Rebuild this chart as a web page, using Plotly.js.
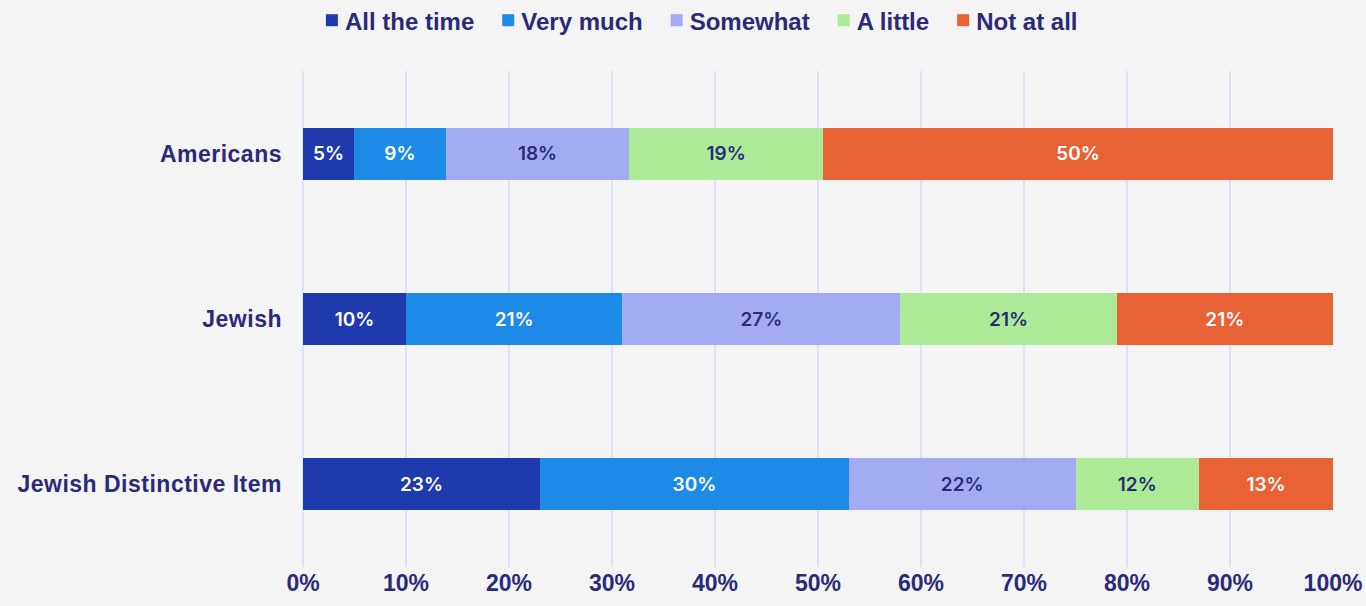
<!DOCTYPE html>
<html>
<head>
<meta charset="utf-8">
<script src="https://cdn.plot.ly/plotly-3.0.1.min.js"></script>
<style>
html,body{margin:0;padding:0;background:#f4f4f4;}
#chart{width:1366px;height:606px;}
#chart .ytick text{letter-spacing:0.5px;}
#chart .legendtext{transform:translateX(-8px);}
</style>
</head>
<body>
<div id="chart"></div>
<script>
const categories = ["Americans", "Jewish", "Jewish Distinctive Item"];
const seriesNames = ["All the time", "Very much", "Somewhat", "A little", "Not at all"];
const allTheTime = [5, 10, 23];
const veryMuch = [9, 21, 30];
const somewhat = [18, 27, 22];
const aLittle = [19, 21, 12];
const notAtAll = [50, 21, 13];
const xTickVals = [0, 10, 20, 30, 40, 50, 60, 70, 80, 90, 100];
const xTickText = ["0%", "10%", "20%", "30%", "40%", "50%", "60%", "70%", "80%", "90%", "100%"];

const seriesValues = [allTheTime, veryMuch, somewhat, aLittle, notAtAll];
const colors = ["#1f3aad", "#1e8ae8", "#a3acf2", "#acea97", "#e96236"];
const textColors = ["#ffffff", "#ffffff", "#2b2a78", "#2b2a78", "#ffffff"];
const navy = "#2b2a78";
const gridColor = "#dce3f7";

const traces = seriesNames.map((name, i) => ({
  type: "bar",
  orientation: "h",
  name: name,
  y: categories,
  x: seriesValues[i],
  text: seriesValues[i].map(v => v + "%"),
  texttemplate: "%{text}",
  textposition: "inside",
  insidetextanchor: "middle",
  textangle: 0,
  constraintext: "none",
  textfont: {family: "Inter, 'Noto Sans', sans-serif", size: 19, weight: 600, color: textColors[i]},
  marker: {color: colors[i], line: {width: 0}},
  hoverinfo: "skip"
}));

const layout = {
  width: 1366,
  height: 606,
  paper_bgcolor: "#f4f4f4",
  plot_bgcolor: "#f4f4f4",
  barmode: "stack",
  barnorm: "percent",
  bargap: 0.685,
  margin: {l: 303, r: 33, t: 71, b: 39},
  showlegend: true,
  legend: {
    orientation: "h",
    traceorder: "normal",
    xref: "container",
    yref: "container",
    x: 0.5131,
    xanchor: "center",
    y: 0.966,
    yanchor: "middle",
    font: {family: "'Liberation Sans', Arial, sans-serif", size: 24, weight: 700, color: navy},
    itemwidth: 32,
    bgcolor: "rgba(0,0,0,0)"
  },
  xaxis: {
    range: [0, 100],
    tickvals: xTickVals,
    ticktext: xTickText,
    showgrid: true,
    gridcolor: gridColor,
    gridwidth: 2,
    zeroline: true,
    zerolinecolor: gridColor,
    zerolinewidth: 2,
    showline: false,
    ticks: "",
    tickfont: {family: "'Liberation Sans', Arial, sans-serif", size: 23, weight: 700, color: navy},
    fixedrange: true
  },
  yaxis: {
    autorange: "reversed",
    type: "category",
    showgrid: false,
    zeroline: false,
    showline: false,
    ticks: "",
    ticklabelstandoff: 20,
    tickfont: {family: "'Liberation Sans', Arial, sans-serif", size: 23, weight: 700, color: navy},
    fixedrange: true
  }
};

Plotly.newPlot("chart", traces, layout, {displayModeBar: false, staticPlot: true});
</script>
</body>
</html>
